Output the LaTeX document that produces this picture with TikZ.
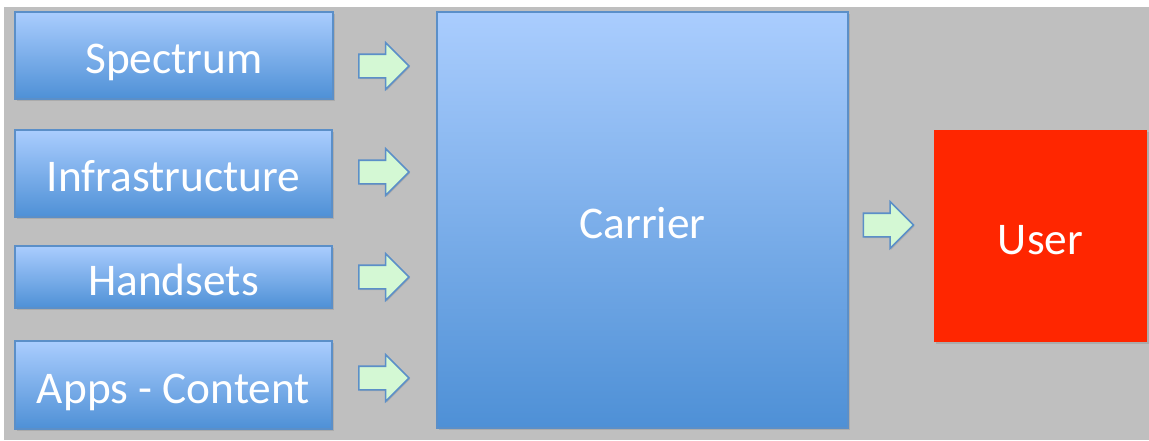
\documentclass[tikz,border=0pt]{standalone}
\usepackage{fontspec}
\setmainfont{Carlito}
\usetikzlibrary{positioning,shapes.arrows,shadows}

\definecolor{bggray}{HTML}{BFBFBF}
\definecolor{boxtop}{HTML}{AACDFE}
\definecolor{boxbot}{HTML}{4E90D6}
\definecolor{boxline}{HTML}{5B8FC8}
\definecolor{arrowfill}{HTML}{D4F8D4}
\definecolor{userred}{HTML}{FF2600}

\tikzset{
	boxtext/.style={text=white,font=\fontsize{34}{40}\selectfont,text height=27.5pt,text depth=0pt},
	bluebox/.style={boxtext,draw=boxline,line width=0.8pt,top color=boxtop,bottom color=boxbot,inner sep=0pt,
		drop shadow={shadow xshift=1.2pt,shadow yshift=-1.5pt,opacity=0.3}},
	blockarrow/.style={single arrow,draw=boxline,line width=1.2pt,fill=arrowfill,
		inner xsep=0pt,inner ysep=8.25pt,minimum height=37.5pt,single arrow head extend=8.6pt,
		drop shadow={shadow xshift=0.8pt,shadow yshift=-1pt,opacity=0.3}}
}

\begin{document}
\begin{tikzpicture}[x=0.75pt,y=-0.75pt]
		\useasboundingbox[fill=white] (0,0) rectangle (1149,440);
		\fill[bggray] (4,7) rectangle (1149,440);
		\node[bluebox,minimum width=238.5pt,minimum height=65.25pt] (spectrum) at (174,55.5) {Spectrum};
		\node[bluebox,minimum width=237.75pt,minimum height=65.25pt] (infra) at (173.5,173.5) {Infrastructure};
		\node[bluebox,minimum width=237.75pt,minimum height=46.5pt] (handsets) at (173.5,277) {Handsets};
		\node[bluebox,minimum width=237.75pt,minimum height=66pt] (apps) at (173.5,385) {Apps - Content};
		\node[bluebox,minimum width=308.25pt,minimum height=312pt] (carrier) at (642.5,220) {Carrier};
		\node[boxtext,fill=userred,minimum width=159.75pt,minimum height=159pt,
			drop shadow={shadow xshift=1.2pt,shadow yshift=-1.5pt,opacity=0.3}] (user) at (1040.5,236) {User};
		\node[blockarrow] (arrspectrum) at (378,66) {};
		\node[blockarrow] (arrinfra) at (378,172) {};
		\node[blockarrow] (arrhandsets) at (378,277) {};
		\node[blockarrow] (arrapps) at (378,378) {};
		\node[blockarrow] (arruser) at (882.5,225) {};
	\end{tikzpicture}
\end{document}
